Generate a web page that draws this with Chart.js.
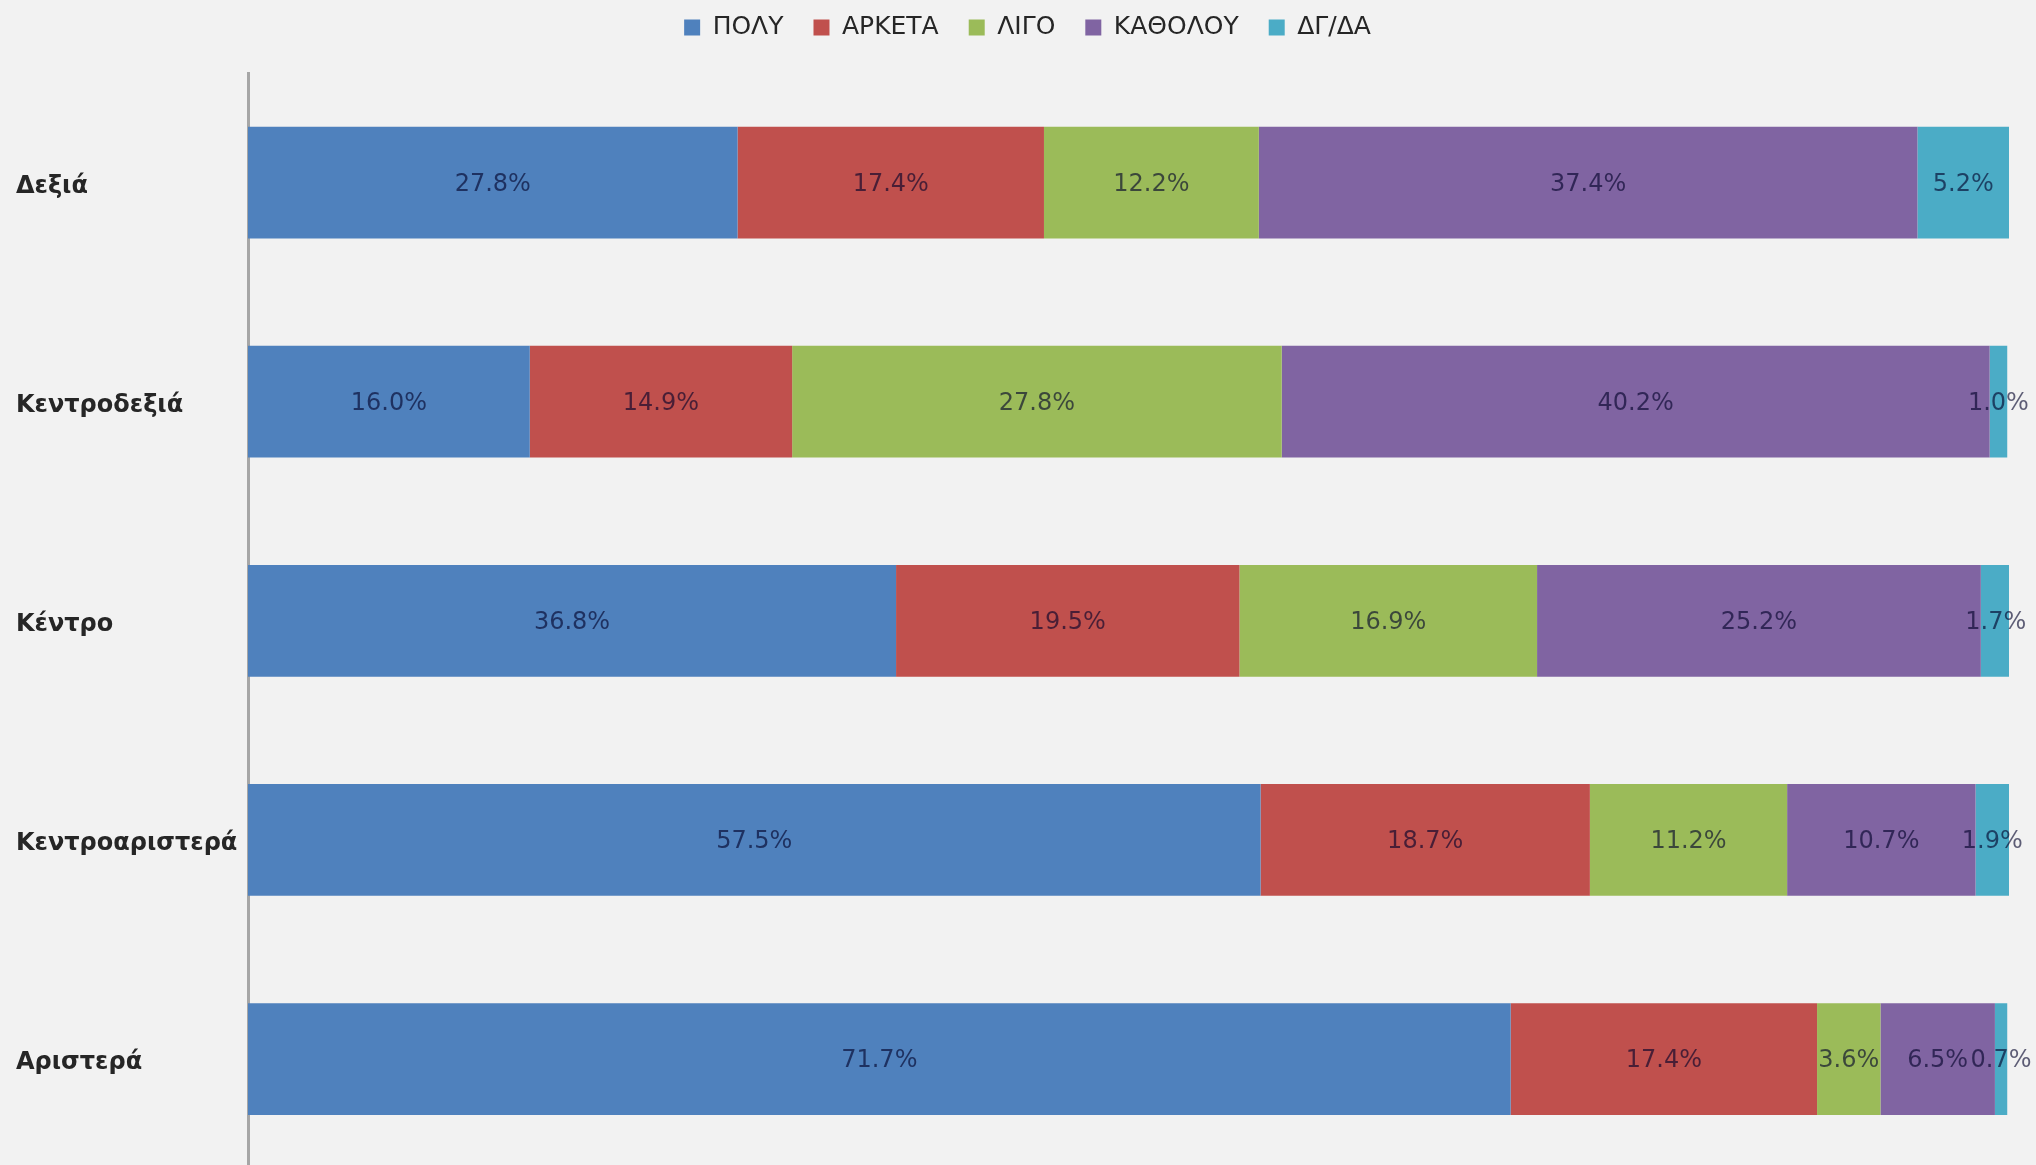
<!DOCTYPE html>
<html>
<head>
<meta charset="utf-8">
<script src="https://cdn.jsdelivr.net/npm/chart.js@4.4.1/dist/chart.umd.min.js"></script>
<style>
  html, body { margin: 0; padding: 0; background: #f2f2f2; overflow: hidden; }
  #wrap { width: 2036px; height: 1186px; }
</style>
</head>
<body>
<div id="wrap"><canvas id="chartOpinion" width="2036" height="1186"></canvas></div>
<script>
// categories (axe vertical)
const categories = ['Δεξιά', 'Κεντροδεξιά', 'Κέντρο', 'Κεντροαριστερά', 'Αριστερά'];
// séries (en %)
const seriesNames = ['ΠΟΛΥ', 'ΑΡΚΕΤΑ', 'ΛΙΓΟ', 'ΚΑΘΟΛΟΥ', 'ΔΓ/ΔΑ'];
const poly     = [27.8, 16.0, 36.8, 57.5, 71.7];
const arketa   = [17.4, 14.9, 19.5, 18.7, 17.4];
const ligo     = [12.2, 27.8, 16.9, 11.2, 3.6];
const katholou = [37.4, 40.2, 25.2, 10.7, 6.5];
const dgda     = [5.2, 1.0, 1.7, 1.9, 0.7];

const colors = ['#4f81bd', '#c0504d', '#9bbb59', '#8064a2', '#4bacc6'];
const values = [poly, arketa, ligo, katholou, dgda];

// étiquettes au centre de chaque segment
const segmentLabels = {
  id: 'segmentLabels',
  afterDatasetsDraw(chart) {
    const ctx = chart.ctx;
    ctx.save();
    ctx.font = '24px "DejaVu Sans"';
    ctx.fillStyle = 'rgba(0, 0, 40, 0.62)';
    ctx.textAlign = 'center';
    ctx.textBaseline = 'middle';
    chart.data.datasets.forEach((ds, i) => {
      chart.getDatasetMeta(i).data.forEach((bar, j) => {
        const x = (bar.x + bar.base) / 2;
        ctx.fillText(ds.data[j].toFixed(1) + '%', x, bar.y + 2);
      });
    });
    ctx.restore();
  }
};

// un peu plus d'espace sous la légende, et légende décalée à droite
const legendSpace = {
  id: 'legendSpace',
  beforeInit(chart) {
    const fit = chart.legend.fit;
    chart.legend.fit = function () {
      fit.call(this);
      this.height += 23;
    };
  },
  afterLayout(chart) {
    chart.legend.left += 15;
    chart.legend.right += 15;
  }
};

const ctx1 = document.getElementById('chartOpinion').getContext('2d');
const chartOpinion = new Chart(ctx1, {
  type: 'bar',
  data: {
    labels: categories,
    datasets: seriesNames.map((name, i) => ({
      label: name,
      data: values[i],
      backgroundColor: colors[i],
      borderWidth: 0,
      barPercentage: 0.51,
      categoryPercentage: 1
    }))
  },
  options: {
    indexAxis: 'y',
    responsive: false,
    animation: false,
    layout: {
      padding: { top: -15, left: 16, right: 27, bottom: 0 }
    },
    scales: {
      x: {
        stacked: true,
        min: 0,
        max: 100,
        display: false
      },
      y: {
        stacked: true,
        grid: { display: false },
        border: { display: true, color: '#a6a6a6', width: 3 },
        ticks: {
          crossAlign: 'far',
          labelOffset: 4,
          color: '#262626',
          font: { family: 'DejaVu Sans', size: 24, weight: 'bold' }
        },
        afterFit(scale) {
          scale.width = 232;
        }
      }
    },
    plugins: {
      legend: {
        position: 'top',
        labels: {
          boxWidth: 16,
          boxHeight: 16,
          padding: 30,
          color: '#262626',
          font: { family: 'DejaVu Sans', size: 25 }
        }
      },
      tooltip: { enabled: false }
    }
  },
  plugins: [segmentLabels, legendSpace]
});
</script>
</body>
</html>
